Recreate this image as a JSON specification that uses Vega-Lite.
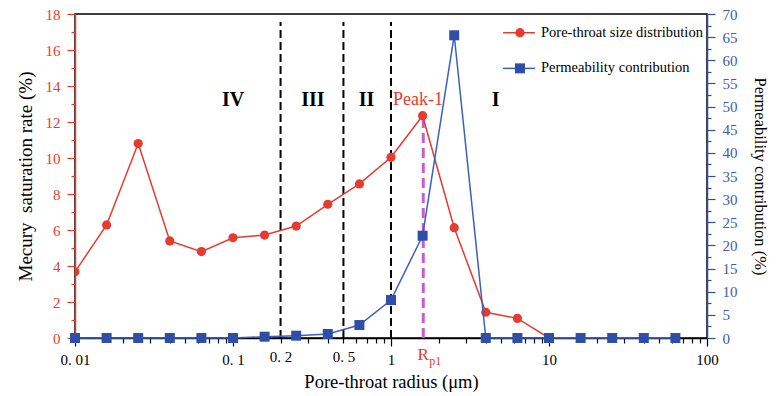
{
  "$schema": "https://vega.github.io/schema/vega-lite/v6.json",
  "width": 632,
  "height": 324,
  "autosize": "none",
  "padding": {"left": 75, "top": 14, "right": 72, "bottom": 58},
  "background": "white",
  "config": {
    "view": {"stroke": "black", "strokeWidth": 1.5},
    "font": "Liberation Serif",
    "axis": {"grid": false, "labelFont": "Liberation Serif", "titleFont": "Liberation Serif", "titleFontWeight": "normal", "labelOverlap": false}
  },
  "datasets": {
    "main": [
      {"r": 0.01, "sat": 3.68, "perm": 0},
      {"r": 0.01585, "sat": 6.28, "perm": 0},
      {"r": 0.02512, "sat": 10.8, "perm": 0},
      {"r": 0.03981, "sat": 5.39, "perm": 0},
      {"r": 0.0631, "sat": 4.8, "perm": 0},
      {"r": 0.1, "sat": 5.57, "perm": 0},
      {"r": 0.1585, "sat": 5.72, "perm": 0.28},
      {"r": 0.2512, "sat": 6.22, "perm": 0.5},
      {"r": 0.3981, "sat": 7.43, "perm": 0.86},
      {"r": 0.631, "sat": 8.56, "perm": 2.8},
      {"r": 1.0, "sat": 10.04, "perm": 8.2},
      {"r": 1.585, "sat": 12.35, "perm": 22.1},
      {"r": 2.512, "sat": 6.13, "perm": 65.4},
      {"r": 3.981, "sat": 1.43, "perm": 0},
      {"r": 6.31, "sat": 1.09, "perm": 0},
      {"r": 10.0, "sat": 0, "perm": 0},
      {"r": 15.85, "sat": 0, "perm": 0},
      {"r": 25.12, "sat": 0, "perm": 0},
      {"r": 39.81, "sat": 0, "perm": 0},
      {"r": 63.1, "sat": 0, "perm": 0}
    ]
  },
  "layer": [
    {
      "data": {"values": [{"x": 0.2, "y0": 0, "y1": 17.55}, {"x": 0.5, "y0": 0, "y1": 17.55}, {"x": 1, "y0": 0, "y1": 17.55}]},
      "mark": {"type": "rule", "color": "black", "strokeWidth": 2, "strokeDash": [8, 4]},
      "encoding": {
        "x": {"field": "x", "type": "quantitative", "scale": {"type": "log", "domain": [0.01, 100]}},
        "y": {"field": "y0", "type": "quantitative", "scale": {"domain": [0, 18]}, "axis": null},
        "y2": {"field": "y1"}
      }
    },
    {
      "data": {"values": [{"x": 1.6, "y0": 0, "y1": 12.2}]},
      "mark": {"type": "rule", "color": "#c55fd0", "strokeWidth": 3, "strokeDash": [10, 5]},
      "encoding": {
        "x": {"field": "x", "type": "quantitative", "scale": {"type": "log", "domain": [0.01, 100]}},
        "y": {"field": "y0", "type": "quantitative", "scale": {"domain": [0, 18]}, "axis": null},
        "y2": {"field": "y1"}
      }
    },
    {
      "data": {"values": [
        {"x": 0.1, "y": 13.2, "t": "IV"},
        {"x": 0.32, "y": 13.2, "t": "III"},
        {"x": 0.7, "y": 13.2, "t": "II"},
        {"x": 4.6, "y": 13.2, "t": "I"}
      ]},
      "mark": {"type": "text", "font": "Liberation Serif", "fontWeight": "bold", "fontSize": 20, "color": "black", "baseline": "middle", "align": "center"},
      "encoding": {
        "x": {"field": "x", "type": "quantitative", "scale": {"type": "log", "domain": [0.01, 100]}},
        "y": {"field": "y", "type": "quantitative", "scale": {"domain": [0, 18]}, "axis": null},
        "text": {"field": "t"}
      }
    },
    {
      "data": {"values": [{"x": 1.48, "y": 13.2, "t": "Peak-1"}]},
      "mark": {"type": "text", "font": "Liberation Serif", "fontSize": 18, "color": "#e63b2e", "baseline": "middle", "align": "center"},
      "encoding": {
        "x": {"field": "x", "type": "quantitative", "scale": {"type": "log", "domain": [0.01, 100]}},
        "y": {"field": "y", "type": "quantitative", "scale": {"domain": [0, 18]}, "axis": null},
        "text": {"field": "t"}
      }
    },
    {
      "data": {"values": [{"x": 1.6, "y": -0.95, "t": "R"}]},
      "mark": {"type": "text", "font": "Liberation Serif", "fontSize": 17, "color": "#e63b2e", "baseline": "middle", "align": "center"},
      "encoding": {
        "x": {"field": "x", "type": "quantitative", "scale": {"type": "log", "domain": [0.01, 100]}},
        "y": {"field": "y", "type": "quantitative", "scale": {"domain": [0, 18]}, "axis": null},
        "text": {"field": "t"}
      }
    },
    {
      "data": {"values": [{"x": 1.6, "y": -0.95, "t": "p1"}]},
      "mark": {"type": "text", "font": "Liberation Serif", "fontSize": 12, "color": "#e63b2e", "baseline": "middle", "align": "left", "dx": 6, "dy": 6},
      "encoding": {
        "x": {"field": "x", "type": "quantitative", "scale": {"type": "log", "domain": [0.01, 100]}},
        "y": {"field": "y", "type": "quantitative", "scale": {"domain": [0, 18]}, "axis": null},
        "text": {"field": "t"}
      }
    },
    {
      "data": {"values": [
        {"x1": 5.12, "x2": 8.15, "y": 16.96, "s": "red"},
        {"x1": 5.12, "x2": 8.15, "y": 14.98, "s": "blue"}
      ]},
      "mark": {"type": "rule", "strokeWidth": 1.5},
      "encoding": {
        "x": {"field": "x1", "type": "quantitative", "scale": {"type": "log", "domain": [0.01, 100]}},
        "x2": {"field": "x2"},
        "y": {"field": "y", "type": "quantitative", "scale": {"domain": [0, 18]}, "axis": null},
        "color": {"field": "s", "type": "nominal", "scale": {"domain": ["red", "blue"], "range": ["#e63b2e", "#3d5fc0"]}, "legend": null}
      }
    },
    {
      "data": {"values": [{"x": 6.55, "y": 16.96}]},
      "mark": {"type": "point", "shape": "circle", "filled": true, "size": 85, "color": "#e63b2e", "opacity": 1},
      "encoding": {
        "x": {"field": "x", "type": "quantitative", "scale": {"type": "log", "domain": [0.01, 100]}},
        "y": {"field": "y", "type": "quantitative", "scale": {"domain": [0, 18]}, "axis": null}
      }
    },
    {
      "data": {"values": [{"x": 6.55, "y": 14.98}]},
      "mark": {"type": "point", "shape": "square", "filled": true, "size": 100, "color": "#2e4ea8", "opacity": 1},
      "encoding": {
        "x": {"field": "x", "type": "quantitative", "scale": {"type": "log", "domain": [0.01, 100]}},
        "y": {"field": "y", "type": "quantitative", "scale": {"domain": [0, 18]}, "axis": null}
      }
    },
    {
      "data": {"values": [
        {"x": 8.77, "y": 16.96, "t": "Pore-throat size distribution"},
        {"x": 8.77, "y": 14.98, "t": "Permeability contribution"}
      ]},
      "mark": {"type": "text", "font": "Liberation Serif", "fontSize": 14.5, "color": "black", "baseline": "middle", "align": "left", "dx": 1},
      "encoding": {
        "x": {"field": "x", "type": "quantitative", "scale": {"type": "log", "domain": [0.01, 100]}},
        "y": {"field": "y", "type": "quantitative", "scale": {"domain": [0, 18]}, "axis": null},
        "text": {"field": "t"}
      }
    },
    {
      "data": {"name": "main"},
      "mark": {"type": "line", "color": "#e63b2e", "strokeWidth": 1.5, "clip": true},
      "encoding": {
        "x": {
          "field": "r", "type": "quantitative",
          "scale": {"type": "log", "domain": [0.01, 100]},
          "axis": {
            "title": "Pore-throat radius (μm)",
            "titleFontSize": 18.5, "titleColor": "black", "titlePadding": 5,
            "values": [0.01,0.02,0.03,0.04,0.05,0.06,0.07,0.08,0.09,0.1,0.2,0.3,0.4,0.5,0.6,0.7,0.8,0.9,1,2,3,4,5,6,7,8,9,10,20,30,40,50,60,70,80,90,100],
            "labelExpr": "datum.value == 0.01 ? '0. 01' : datum.value == 0.1 ? '0. 1' : datum.value == 0.2 ? '0. 2' : datum.value == 0.5 ? '0. 5' : datum.value == 1 ? '1' : datum.value == 10 ? '10' : datum.value == 100 ? '100' : ''",
            "labelOverlap": false, "labelFlush": false,
            "labelFontSize": 15, "labelColor": "black", "labelPadding": 6,
            "domainColor": "black", "domainWidth": 1.5, "tickColor": "black", "tickWidth": 1.2,
            "tickSize": {"condition": {"test": "indexof([0.01,0.1,1,10,100], datum.value) >= 0", "value": 8}, "value": 5}
          }
        },
        "y": {
          "field": "sat", "type": "quantitative",
          "scale": {"domain": [0, 18]},
          "axis": {
            "title": "Mecury\u00a0 saturation rate (%)",
            "titleFontSize": 19, "titleColor": "black", "titlePadding": 10,
            "values": [0,1,2,3,4,5,6,7,8,9,10,11,12,13,14,15,16,17,18],
            "labelExpr": "datum.value % 2 == 0 ? datum.label : ''",
            "labelOverlap": false,
            "labelFontSize": 15,
            "labelColor": "#e63b2e", "labelPadding": 7,
            "domainColor": "#e63b2e", "domainWidth": 1.5, "tickColor": "#e63b2e", "tickWidth": 1.2,
            "tickSize": {"condition": {"test": "datum.value % 2 == 0", "value": 8}, "value": 4}
          }
        }
      }
    },
    {
      "data": {"name": "main"},
      "mark": {"type": "point", "shape": "circle", "filled": true, "size": 85, "color": "#e63b2e", "opacity": 1, "clip": true},
      "encoding": {
        "x": {"field": "r", "type": "quantitative", "scale": {"type": "log", "domain": [0.01, 100]}},
        "y": {"field": "sat", "type": "quantitative", "scale": {"domain": [0, 18]}, "axis": null}
      }
    },
    {
      "data": {"name": "main"},
      "mark": {"type": "line", "color": "#3d5fc0", "strokeWidth": 1.5},
      "encoding": {
        "x": {"field": "r", "type": "quantitative", "scale": {"type": "log", "domain": [0.01, 100]}},
        "y": {
          "field": "perm", "type": "quantitative",
          "scale": {"domain": [0, 70]},
          "axis": {
            "orient": "right",
            "title": "Permeability contribution (%)",
            "titleFontSize": 16.5, "titleColor": "black", "titlePadding": 14,
            "values": [0,2.5,5,7.5,10,12.5,15,17.5,20,22.5,25,27.5,30,32.5,35,37.5,40,42.5,45,47.5,50,52.5,55,57.5,60,62.5,65,67.5,70],
            "labelExpr": "datum.value % 5 == 0 ? datum.label : ''",
            "labelOverlap": false,
            "labelFontSize": 15,
            "labelColor": "#4259b8", "labelPadding": 7,
            "domainColor": "#2e4ea8", "domainWidth": 1.5, "tickColor": "#2e4ea8", "tickWidth": 1.2,
            "tickSize": {"condition": {"test": "datum.value % 5 == 0", "value": 8}, "value": 4}
          }
        }
      }
    },
    {
      "data": {"name": "main"},
      "mark": {"type": "point", "shape": "square", "filled": true, "size": 100, "color": "#2e4ea8", "opacity": 1},
      "encoding": {
        "x": {"field": "r", "type": "quantitative", "scale": {"type": "log", "domain": [0.01, 100]}},
        "y": {"field": "perm", "type": "quantitative", "scale": {"domain": [0, 70]}, "axis": null}
      }
    }
  ],
  "resolve": {"scale": {"y": "independent"}}
}
